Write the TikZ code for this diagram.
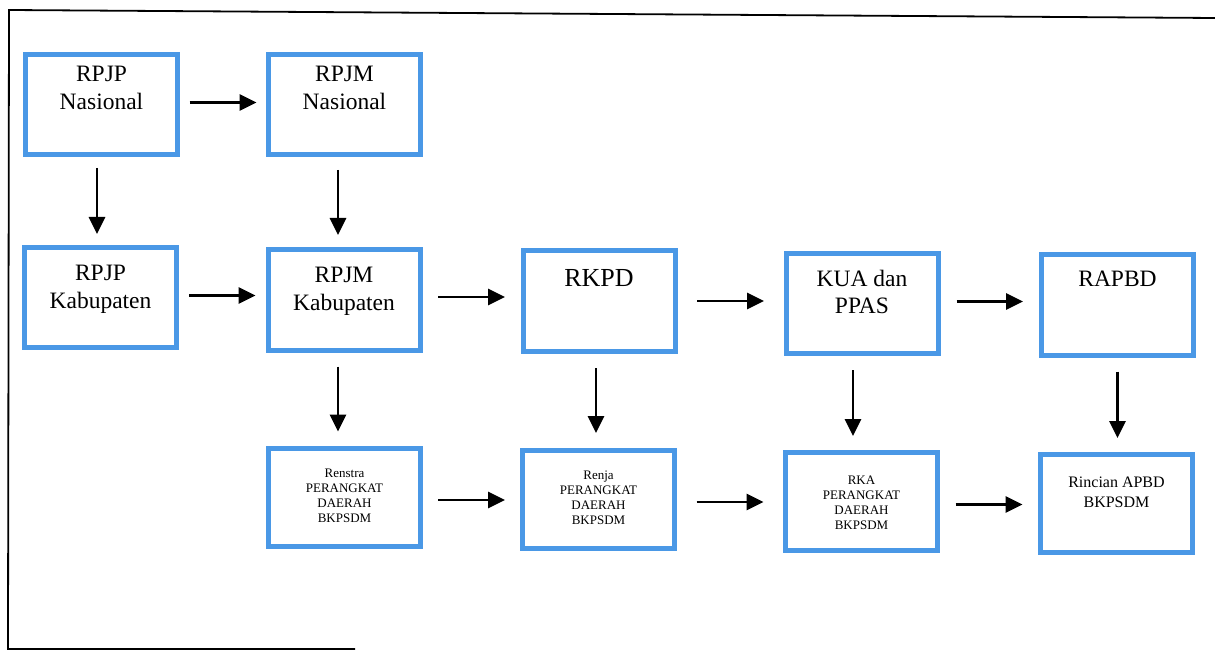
\documentclass[tikz,border=0pt]{standalone}
\usepackage{fontspec}
\setmainfont{Liberation Serif}
\usetikzlibrary{arrows.meta}
\definecolor{boxblue}{RGB}{74,152,230}
\newcommand{\inbox}[3]{\parbox[c][#1][t]{140pt}{\centering\rule{0pt}{#2}#3}}
\begin{document}
\begin{tikzpicture}[x=1pt,y=-1pt,
  box/.style={draw=boxblue, line width=5pt, fill=white, inner sep=2.5pt, outer sep=2.5pt,
              minimum width=152pt, minimum height=100pt},
  lowbox/.style={box, minimum height=98pt},
  bigtext/.style={font=\fontsize{23.5}{28}\selectfont},
  midtext/.style={font=\fontsize{23.5}{27.5}\selectfont},
  rkpdtext/.style={font=\fontsize{26}{30}\selectfont},
  smalltext/.style={font=\fontsize{13}{15}\selectfont},
  rintext/.style={font=\fontsize{16}{20}\selectfont},
  arr/.style={line width=2.8pt, -{Triangle[length=17pt,width=16pt]}},
  harr/.style={arr, shorten <=#1, shorten >=#1},
  frame/.style={line width=1.8pt, black}
]
\useasboundingbox (0,0) rectangle (1215,652);
\draw[frame] (1215,18) -- (9,10) -- (8,649) -- (355,649);

% row 1
\node[box, bigtext] (rpjpn) at (101.5,104.5) {\inbox{95pt}{25pt}{RPJP\\Nasional}};
\node[box, bigtext] (rpjmn) at (344.5,105) {\inbox{95pt}{24pt}{RPJM\\Nasional}};
% row 2
\node[box, midtext] (rpjpk) at (100.5,297.5) {\inbox{95pt}{31pt}{RPJP\\Kabupaten}};
\node[box, midtext] (rpjmk) at (344,300) {\inbox{95pt}{30pt}{RPJM\\Kabupaten}};
\node[box, rkpdtext] (rkpd) at (599,301) {\inbox{95pt}{33pt}{RKPD}};
\node[box, midtext] (kua) at (862,303.5) {\inbox{95pt}{30pt}{KUA dan\\PPAS}};
\node[box, midtext] (rapbd) at (1117.5,305) {\inbox{95pt}{29pt}{RAPBD}};
% row 3
\node[lowbox, smalltext] (renstra) at (344.5,497) {\inbox{93pt}{27pt}{Renstra\\PERANGKAT\\DAERAH\\BKPSDM}};
\node[lowbox, smalltext] (renja) at (598.5,499) {\inbox{93pt}{27pt}{Renja\\PERANGKAT\\DAERAH\\BKPSDM}};
\node[lowbox, smalltext] (rka) at (861.5,501.5) {\inbox{93pt}{29pt}{RKA\\PERANGKAT\\DAERAH\\BKPSDM}};
\node[lowbox, rintext] (rincian) at (1116.5,503.5) {\inbox{93pt}{30pt}{Rincian APBD\\BKPSDM}};

% horizontal arrows
\draw[harr=9.5pt] ([yshift=2pt]rpjpn.east) -- ([yshift=2pt]rpjpn.east -| rpjmn.west);
\draw[harr=10pt] ([yshift=2pt]rpjpk.east) -- ([yshift=2pt]rpjpk.east -| rpjmk.west);
\draw[harr=15.5pt] ([yshift=3pt]rpjmk.east) -- ([yshift=3pt]rpjmk.east -| rkpd.west);
\draw[harr=19.5pt] (rkpd.east) -- (rkpd.east -| kua.west);
\draw[harr=16pt] ([yshift=2pt]kua.east) -- ([yshift=2pt]kua.east -| rapbd.west);
\draw[harr=15pt] ([yshift=-3pt]renstra.east) -- ([yshift=-3pt]renstra.east -| renja.west);
\draw[harr=19.5pt] ([yshift=-3pt]renja.east) -- ([yshift=-3pt]renja.east -| rka.west);
\draw[harr=15.5pt] ([yshift=-3pt]rka.east) -- ([yshift=-3pt]rka.east -| rincian.west);

% vertical arrows
\draw[harr=11pt] ([xshift=-4.5pt]rpjpn.south) -- ([xshift=-4.5pt]rpjpn.south |- rpjpk.north);
\draw[harr=12.5pt] ([xshift=-6.5pt]rpjmn.south) -- ([xshift=-6.5pt]rpjmn.south |- rpjmk.north);
\draw[harr=14pt] ([xshift=-6pt]rpjmk.south) -- ([xshift=-6pt]rpjmk.south |- renstra.north);
\draw[harr=14.5pt] ([xshift=-3pt]rkpd.south) -- ([xshift=-3pt]rkpd.south |- renja.north);
\draw[harr=14pt] ([xshift=-9pt]kua.south) -- ([xshift=-9pt]kua.south |- rka.north);
\draw[harr=14pt] (rapbd.south) -- (rapbd.south |- rincian.north);
\end{tikzpicture}
\end{document}
